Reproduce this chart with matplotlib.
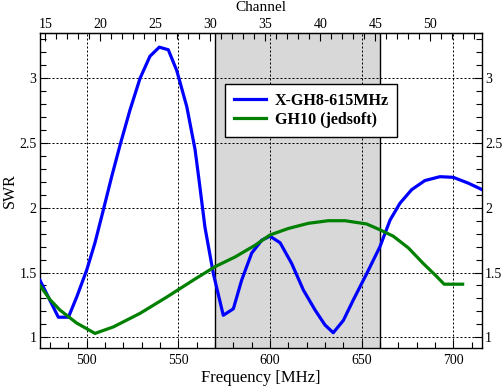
import matplotlib
matplotlib.use("Agg")
import matplotlib.pyplot as plt
from matplotlib.ticker import FixedLocator

plt.rcParams['font.family'] = ['Liberation Serif', 'DejaVu Serif']

# X-GH8-615MHz
freq_a = [474.5, 484.5, 490.0, 494.5, 500.0, 504.5, 509.0, 513.6, 518.2, 523.6, 529.1,
          534.5, 539.6, 544.5, 549.1, 554.6, 559.1, 561.4, 564.5, 569.1, 574.5, 580.0,
          584.5, 590.0, 595.5, 600.0, 605.5, 611.8, 618.2, 624.6, 630.0, 634.5, 640.0,
          645.5, 652.7, 660.0, 665.5, 670.9, 677.3, 684.5, 692.7, 700.0, 708.2, 715.7]
swr_a = [1.44, 1.155, 1.155, 1.31, 1.52, 1.73, 1.98, 2.24, 2.485, 2.755, 3.0,
         3.17, 3.24, 3.22, 3.06, 2.78, 2.45, 2.20, 1.85, 1.49, 1.17, 1.22,
         1.44, 1.65, 1.75, 1.78, 1.73, 1.57, 1.365, 1.21, 1.095, 1.035, 1.13,
         1.29, 1.49, 1.70, 1.905, 2.035, 2.14, 2.21, 2.24, 2.235, 2.19, 2.14]

# GH10 (jedsoft)
freq_b = [474.5, 480.0, 485.4, 494.5, 504.5, 514.5, 529.1, 543.6, 559.1, 570.0, 580.9,
          591.8, 600.0, 610.0, 620.9, 631.8, 640.9, 652.7, 660.0, 667.3, 675.5, 683.6,
          690.9, 695.0, 705.1]
swr_b = [1.40, 1.29, 1.21, 1.11, 1.03, 1.08, 1.185, 1.31, 1.45, 1.545, 1.62,
         1.71, 1.79, 1.84, 1.88, 1.90, 1.90, 1.875, 1.83, 1.78, 1.69, 1.57,
         1.47, 1.41, 1.41]

labels = ['X-GH8-615MHz', 'GH10 (jedsoft)']
band = (570, 660)
freq_ticks = [500, 550, 600, 650, 700]
swr_ticks = [1, 1.5, 2, 2.5, 3]
channel_ticks = [15, 20, 25, 30, 35, 40, 45, 50]

fig = plt.figure(figsize=(5.04, 3.86), dpi=100)
ax = fig.add_axes([40/504, 37.7/386, 441.7/504, 315/386])

ax.axvspan(band[0], band[1], facecolor='#d8d8d8', edgecolor='none', zorder=0)
ax.axvline(band[0], color='black', lw=1.0, zorder=1)
ax.axvline(band[1], color='black', lw=1.0, zorder=1)

ax.plot(freq_a, swr_a, color='#0000ff', lw=2.3, label=labels[0], zorder=3)
ax.plot(freq_b, swr_b, color='#008000', lw=2.3, label=labels[1], zorder=3)

ax.set_xlim(474.5, 715.5)
ax.set_ylim(0.915, 3.347)

ax.xaxis.set_major_locator(FixedLocator(freq_ticks))
ax.xaxis.set_minor_locator(FixedLocator(list(range(480, 716, 10))))
ax.yaxis.set_major_locator(FixedLocator(swr_ticks))
ax.yaxis.set_minor_locator(FixedLocator([1 + 0.1 * i for i in range(-0, 24)]))
ax.yaxis.set_major_formatter(plt.FuncFormatter(lambda v, p: f'{v:g}'))

ax.grid(True, which='major', color='black', lw=0.72, linestyle=(0, (2, 2)))
ax.set_axisbelow(False)

ax.tick_params(which='both', direction='in', top=False, right=True, labelright=True,
               labelsize=10, color='black', width=0.8)
ax.tick_params(axis='x', pad=4)
ax.tick_params(axis='y', pad=2.5)
ax.tick_params(which='major', length=6)
ax.tick_params(which='minor', length=4.5)
for s in ax.spines.values():
    s.set_linewidth(1.0)

ax.set_xlabel('Frequency [MHz]', fontsize=12, labelpad=2)
ax.set_ylabel('SWR', fontsize=11.5, labelpad=1)

sec = ax.secondary_xaxis('top', functions=(lambda f: (f - 387.5) / 6.0,
                                           lambda c: c * 6.0 + 387.5))
sec.xaxis.set_major_locator(FixedLocator(channel_ticks))
sec.xaxis.set_minor_locator(FixedLocator(list(range(15, 55))))
sec.tick_params(which='both', direction='in', labelsize=10, width=0.8, pad=2)
sec.tick_params(which='major', length=6)
sec.tick_params(which='minor', length=4.5)

fig.text((40 + 441.7 / 2) / 504, 1 - 1.0 / 386, 'Channel', fontsize=11,
         ha='center', va='top')

leg = ax.legend(loc='upper left', bbox_to_anchor=(0.419, 0.839), fontsize=11.5,
                frameon=True, fancybox=False, edgecolor='black', framealpha=1,
                handlelength=2.0, handletextpad=0.55, borderpad=0.55, labelspacing=0.2,
                borderaxespad=0)
leg.get_frame().set_linewidth(1.0)
for t in leg.get_texts():
    t.set_fontweight('bold')

fig.savefig('out.png', dpi=100)
